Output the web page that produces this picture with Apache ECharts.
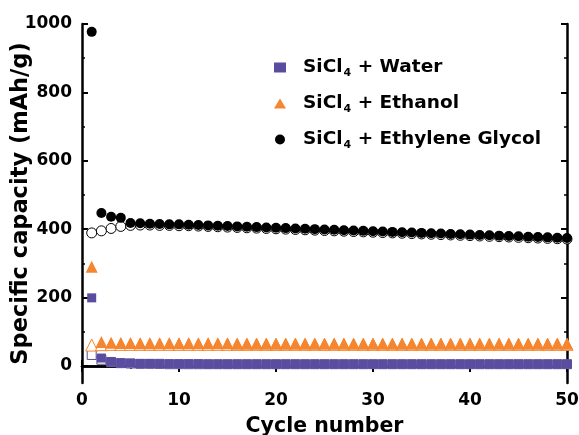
<!DOCTYPE html>
<html><head><meta charset="utf-8">
<script src="https://cdn.jsdelivr.net/npm/echarts@6/dist/echarts.min.js"></script>
<style>html,body{margin:0;padding:0;background:#fff}#c{width:579px;height:435px}</style>
</head><body><div id="c"></div>
<script>
const cycles = Array.from({length:50},(_,i)=>i+1);
const waterDischarge = [199,23,13,9,8,7,7,6,6,6,6,6,5,5,5,5,5,5,5,5,5,5,5,5,5,5,5,5,5,5,5,5,5,5,5,5,5,5,5,5,5,5,5,5,5,5,5,5,5,5];
const waterCharge = [32,18,11,8,7,6,6,6,5,5,5,5,5,5,5,5,5,5,5,5,5,5,5,5,5,5,5,5,5,5,5,5,5,5,5,5,5,5,5,5,5,5,5,5,5,5,5,5,5,5];
const ethanolDischarge = [290,70,68,67,67,66,66,66,66,66,66,66,66,66,66,65,65,65,65,65,65,65,65,65,65,65,65,65,65,65,65,65,65,65,65,65,65,65,65,65,65,65,65,65,65,65,65,65,65,65];
const ethanolCharge = [61,62,63,63,63,63,63,63,63,63,63,63,63,63,63,63,63,63,63,63,63,63,63,63,63,63,63,63,63,63,63,63,63,63,63,63,63,63,63,63,63,63,63,63,63,63,63,63,63,63];
const glycolDischarge = [977,447,436,433,418,417,416,415,414,414,413,412,411,410,409,408,407,406,405,404,403,402,401,400,399,398,397,396,395,394,393,392,391,390,389,388,387,386,385,384,383,382,381,380,379,378,377,376,375,374];
const glycolCharge = [389,395,402,408,411,412,412,411,411,410,410,409,408,407,406,405,404,403,402,401,400,399,398,397,396,395,394,393,392,391,390,389,388,387,386,385,384,383,382,381,380,379,378,377,376,375,374,373,372,371];
const xTicks = [0,10,20,30,40,50];
const yTicks = [0,200,400,600,800,1000];
const yMinor = [100,300,500,700,900];
const seriesNames = ['SiCl4 + Water','SiCl4 + Ethanol','SiCl4 + Ethylene Glycol'];

const FONT = '"DejaVu Sans", sans-serif';
const PURPLE = '#5a4c9f', ORANGE = '#f5862f', BLACK = '#000';
const pair = a => a.map((v,i)=>[cycles[i], v]);
const baseAxisLine = {lineStyle:{color:'#000', width:2.5}};
const fmt = v => String(v);

const chart = echarts.init(document.getElementById('c'), null, {renderer:'canvas'});
chart.setOption({
  animation:false,
  grid: {left:82, right:12, top:24, bottom:52, containLabel:false, outerBoundsMode:'none'},
  legend: {
    orient:'vertical', left:269, top:53, itemGap:15,
    itemWidth:12, itemHeight:10,
    data:seriesNames,
    formatter: n => '{b|SiCl}{s|4}{b|' + n.slice(5) + '}',
    textStyle:{ rich:{
      b:{fontFamily:FONT, fontWeight:'bold', fontSize:18.5, color:'#000'},
      s:{fontFamily:FONT, fontWeight:'bold', fontSize:11, color:'#000', verticalAlign:'bottom', padding:[12,0,0,1]}
    }, padding:[0,0,0,12]}
  },
  xAxis: [
    {type:'value', min:0, max:50, interval:10, position:'bottom',
     name:'Cycle number', nameLocation:'middle', nameGap:33, nameMoveOverlap:false,
     nameTextStyle:{fontFamily:FONT, fontWeight:'bold', fontSize:20.5, color:'#000'},
     axisLine:baseAxisLine, axisTick:{inside:true, length:6, lineStyle:{width:2,color:'#000'}},
     minorTick:{show:true, splitNumber:2, length:3, lineStyle:{width:1.5,color:'#000'}},
     axisLabel:{fontFamily:FONT, fontWeight:'bold', fontSize:17, color:'#000', margin:9, formatter:fmt},
     splitLine:{show:false}},
    {type:'value', min:0, max:50, interval:10, position:'top',
     axisLine:baseAxisLine, axisTick:{inside:true, length:6, lineStyle:{width:2,color:'#000'}},
     minorTick:{show:true, splitNumber:2, length:3, lineStyle:{width:1.5,color:'#000'}},
     axisLabel:{show:false}, splitLine:{show:false}}
  ],
  yAxis: [
    {type:'value', min:-50, max:1000, position:'left',
     name:'Specific capacity (mAh/g)', nameLocation:'middle', nameGap:49, nameMoveOverlap:false,
     nameTextStyle:{fontFamily:FONT, fontWeight:'bold', fontSize:22.5, color:'#000'},
     axisLine:baseAxisLine,
     axisTick:{inside:true, length:6, customValues:yTicks, lineStyle:{width:2,color:'#000'}},
     axisLabel:{customValues:yTicks, fontFamily:FONT, fontWeight:'bold', fontSize:17, color:'#000', margin:10, formatter:fmt},
     splitLine:{show:false}},
    {type:'value', min:-50, max:1000, position:'left',
     axisLine:{show:false},
     axisTick:{inside:true, length:3, customValues:yMinor, lineStyle:{width:1.5,color:'#000'}},
     axisLabel:{show:false}, splitLine:{show:false}},
    {type:'value', min:-50, max:1000, position:'right',
     axisLine:baseAxisLine,
     axisTick:{inside:true, length:6, customValues:yTicks, lineStyle:{width:2,color:'#000'}},
     axisLabel:{show:false}, splitLine:{show:false}},
    {type:'value', min:-50, max:1000, position:'right',
     axisLine:{show:false},
     axisTick:{inside:true, length:3, customValues:yMinor, lineStyle:{width:1.5,color:'#000'}},
     axisLabel:{show:false}, splitLine:{show:false}}
  ],
  series: [
    {name:'water-charge', type:'scatter', data:pair(waterCharge), symbol:'rect', symbolSize:9,
     itemStyle:{color:'#fff', borderColor:PURPLE, borderWidth:1, opacity:1}, z:2},
    {name:'ethanol-charge', type:'scatter', data:pair(ethanolCharge), symbol:'triangle', symbolSize:12,
     itemStyle:{color:'#fff', borderColor:ORANGE, borderWidth:1, opacity:1}, z:2},
    {name:'glycol-charge', type:'scatter', data:pair(glycolCharge), symbol:'circle', symbolSize:10,
     itemStyle:{color:'#fff', borderColor:BLACK, borderWidth:1, opacity:1}, z:2},
    {name:seriesNames[0], type:'scatter', data:pair(waterDischarge), symbol:'rect', symbolSize:9,
     itemStyle:{color:PURPLE, opacity:1}, z:3},
    {name:seriesNames[1], type:'scatter', data:pair(ethanolDischarge), symbol:'triangle', symbolSize:12,
     itemStyle:{color:ORANGE, opacity:1}, z:3},
    {name:seriesNames[2], type:'scatter', data:pair(glycolDischarge), symbol:'circle', symbolSize:10,
     itemStyle:{color:BLACK, opacity:1}, z:3}
  ]
});
</script></body></html>
